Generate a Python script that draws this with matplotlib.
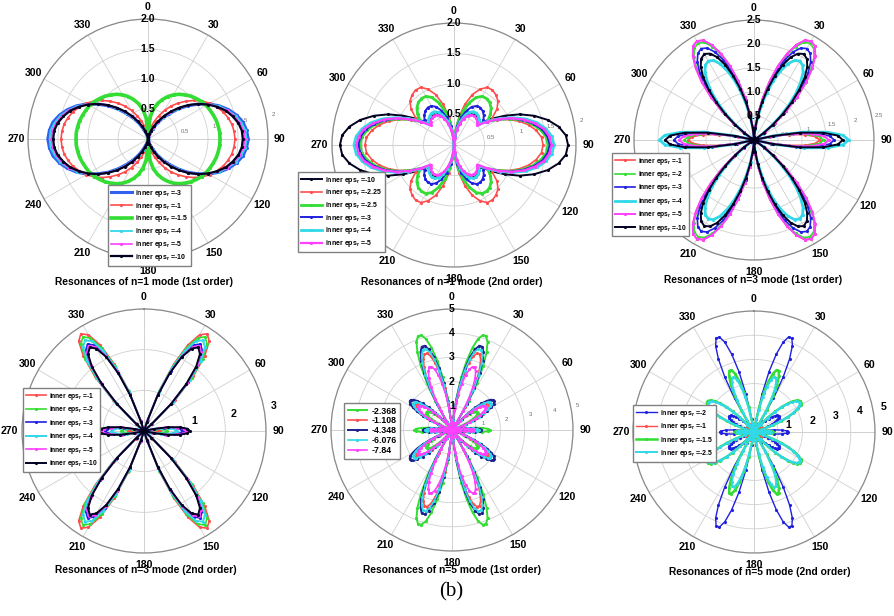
import numpy as np
import matplotlib
matplotlib.use('Agg')
import matplotlib.pyplot as plt

plt.rcParams['font.family'] = ['Liberation Sans', 'DejaVu Sans']
plt.rcParams['mathtext.fontset'] = 'custom'
plt.rcParams['mathtext.rm'] = 'Liberation Sans:bold'
plt.rcParams['mathtext.default'] = 'rm'

# the patterns are symmetric about both axes, so the other quadrants are mirrored copies
theta_5 = list(range(0, 91, 5))
theta_3 = list(range(0, 91, 3))
theta_2 = list(range(0, 91, 2))

# n=1, 1st order
eps_n1_first = ['-3', '-1', '-1.5', '-4', '-5', '-10']
r_n1_first = [
    [0, 0, 0.02, 0.06, 0.11, 0.19, 0.30, 0.42, 0.55, 0.70, 0.86, 1.01, 1.17, 1.31, 1.43, 1.53, 1.61, 1.65, 1.67],
    [0, 0.05, 0.12, 0.22, 0.32, 0.43, 0.55, 0.67, 0.78, 0.89, 1.00, 1.10, 1.19, 1.26, 1.33, 1.38, 1.42, 1.44, 1.45],
    [0, 0.35, 0.50, 0.61, 0.70, 0.78, 0.85, 0.91, 0.96, 1.01, 1.05, 1.09, 1.12, 1.14, 1.16, 1.18, 1.19, 1.20, 1.20],
    [0, 0, 0.02, 0.06, 0.12, 0.21, 0.31, 0.43, 0.57, 0.71, 0.87, 1.02, 1.16, 1.30, 1.41, 1.51, 1.58, 1.63, 1.64],
    [0, 0.01, 0.03, 0.07, 0.14, 0.22, 0.33, 0.45, 0.58, 0.73, 0.87, 1.02, 1.16, 1.28, 1.40, 1.49, 1.55, 1.60, 1.61],
    [0, 0.01, 0.03, 0.08, 0.15, 0.24, 0.34, 0.47, 0.60, 0.74, 0.88, 1.02, 1.15, 1.27, 1.38, 1.46, 1.53, 1.57, 1.58],
]

# n=1, 2nd order
eps_n1_second = ['-10', '-2.25', '-2.5', '-3', '-4', '-5']
r_n1_second = [
    [0, 0.13, 0.26, 0.39, 0.49, 0.57, 0.61, 0.62, 0.60, 0.57, 0.55, 0.75, 0.96, 1.19, 1.40, 1.59, 1.74, 1.84, 1.87],
    [0, 0.22, 0.47, 0.69, 0.88, 1.01, 1.09, 1.10, 1.07, 1.02, 0.92, 0.76, 0.82, 0.99, 1.14, 1.27, 1.37, 1.44, 1.46],
    [0, 0.19, 0.39, 0.58, 0.74, 0.86, 0.92, 0.93, 0.91, 0.86, 0.78, 0.67, 0.84, 1.02, 1.19, 1.33, 1.44, 1.52, 1.54],
    [0, 0.15, 0.32, 0.47, 0.60, 0.69, 0.74, 0.75, 0.73, 0.69, 0.63, 0.67, 0.85, 1.03, 1.20, 1.35, 1.47, 1.54, 1.57],
    [0, 0.13, 0.27, 0.40, 0.51, 0.59, 0.63, 0.64, 0.62, 0.59, 0.53, 0.68, 0.87, 1.06, 1.25, 1.41, 1.53, 1.61, 1.64],
    [0, 0.12, 0.25, 0.36, 0.46, 0.53, 0.57, 0.58, 0.57, 0.54, 0.50, 0.67, 0.85, 1.04, 1.22, 1.37, 1.50, 1.57, 1.60],
]

# n=3, 1st order
eps_n3_first = ['-1', '-2', '-3', '-4', '-5', '-10']
r_n3_first = [
    [0, 0.08, 0.29, 0.57, 0.91, 1.28, 1.63, 1.93, 2.17, 2.33, 2.38, 2.33, 2.17, 1.93, 1.63, 1.28, 0.91, 0.57, 0.29, 0.08, 0,
     0, 0, 0, 0, 0, 0.31, 0.73, 1.07, 1.29, 1.37],
    [0, 0.08, 0.28, 0.56, 0.90, 1.25, 1.59, 1.89, 2.13, 2.28, 2.33, 2.28, 2.13, 1.89, 1.59, 1.25, 0.90, 0.56, 0.28, 0.08, 0,
     0, 0, 0, 0, 0, 0.32, 0.77, 1.13, 1.37, 1.45],
    [0, 0.08, 0.27, 0.53, 0.85, 1.18, 1.50, 1.79, 2.01, 2.15, 2.20, 2.15, 2.01, 1.79, 1.50, 1.18, 0.85, 0.53, 0.27, 0.08, 0,
     0, 0, 0, 0, 0, 0.37, 0.89, 1.31, 1.58, 1.67],
    [0, 0.07, 0.23, 0.46, 0.73, 1.02, 1.30, 1.54, 1.74, 1.86, 1.90, 1.86, 1.74, 1.54, 1.30, 1.02, 0.73, 0.46, 0.23, 0.07, 0,
     0, 0, 0, 0, 0, 0.44, 1.05, 1.54, 1.86, 1.97],
    [0, 0.08, 0.29, 0.57, 0.91, 1.28, 1.63, 1.93, 2.17, 2.33, 2.38, 2.33, 2.17, 1.93, 1.63, 1.28, 0.91, 0.57, 0.29, 0.08, 0,
     0, 0, 0, 0, 0, 0.35, 0.83, 1.22, 1.47, 1.56],
    [0, 0.07, 0.25, 0.50, 0.80, 1.11, 1.41, 1.68, 1.89, 2.02, 2.07, 2.02, 1.89, 1.68, 1.41, 1.11, 0.80, 0.50, 0.25, 0.07, 0,
     0, 0, 0, 0, 0, 0.41, 0.98, 1.45, 1.75, 1.85],
]

# n=3, 2nd order
eps_n3_second = ['-1', '-2', '-3', '-4', '-5', '-10']
r_n3_second = [
    [0, 0, 0, 0, 0, 0, 0.28, 1.09, 1.81, 2.37, 2.73, 2.85, 2.73, 2.37, 1.81, 1.09, 0.28,
     0, 0, 0, 0, 0, 0, 0, 0, 0, 0.09, 0.21, 0.31, 0.38, 0.40],
    [0, 0, 0, 0, 0, 0, 0.27, 1.06, 1.75, 2.29, 2.64, 2.76, 2.64, 2.29, 1.75, 1.06, 0.27,
     0, 0, 0, 0, 0, 0, 0, 0, 0, 0.12, 0.30, 0.44, 0.53, 0.56],
    [0, 0, 0, 0, 0, 0, 0.25, 0.98, 1.62, 2.12, 2.44, 2.55, 2.44, 2.12, 1.62, 0.98, 0.25,
     0, 0, 0, 0, 0, 0, 0, 0, 0, 0.21, 0.51, 0.74, 0.90, 0.95],
    [0, 0, 0, 0, 0, 0, 0.26, 1.02, 1.69, 2.21, 2.55, 2.66, 2.55, 2.21, 1.69, 1.02, 0.26,
     0, 0, 0, 0, 0, 0, 0, 0, 0, 0.18, 0.43, 0.63, 0.76, 0.80],
    [0, 0, 0, 0, 0, 0, 0.25, 0.96, 1.59, 2.08, 2.39, 2.50, 2.39, 2.08, 1.59, 0.96, 0.25,
     0, 0, 0, 0, 0, 0, 0, 0, 0, 0.23, 0.56, 0.82, 0.99, 1.05],
    [0, 0, 0, 0, 0, 0, 0.24, 0.94, 1.55, 2.04, 2.34, 2.45, 2.34, 2.04, 1.55, 0.94, 0.24,
     0, 0, 0, 0, 0, 0, 0, 0, 0, 0.25, 0.60, 0.88, 1.07, 1.13],
]

# n=5, 1st order
eps_n5_first = ['-2.368', '-1.108', '-4.348', '-6.076', '-7.84']
r_n5_first = [
    [0, 0, 0, 0.46, 1.37, 2.21, 2.93, 3.51, 3.92, 4.12, 4.12, 3.92, 3.51, 2.93, 2.21, 1.37, 0.46, 0, 0, 0,
     0.13, 0.38, 0.61, 0.82, 1.00, 1.15, 1.24, 1.29, 1.29, 1.24, 1.15, 1.00, 0.82, 0.61, 0.38, 0.13,
     0, 0, 0, 0, 0, 0.48, 0.91, 1.25, 1.47, 1.55],
    [0, 0, 0, 0.38, 1.11, 1.78, 2.37, 2.84, 3.16, 3.33, 3.33, 3.16, 2.84, 2.37, 1.78, 1.11, 0.38, 0, 0, 0,
     0.18, 0.54, 0.87, 1.17, 1.43, 1.63, 1.77, 1.84, 1.84, 1.77, 1.63, 1.43, 1.17, 0.87, 0.54, 0.18,
     0, 0, 0, 0, 0, 0.31, 0.59, 0.81, 0.95, 1.00],
    [0, 0, 0, 0.41, 1.22, 1.96, 2.60, 3.12, 3.47, 3.66, 3.66, 3.47, 3.12, 2.60, 1.96, 1.22, 0.41, 0, 0, 0,
     0.21, 0.62, 1.00, 1.34, 1.64, 1.87, 2.03, 2.11, 2.11, 2.03, 1.87, 1.64, 1.34, 1.00, 0.62, 0.21,
     0, 0, 0, 0, 0, 0.37, 0.71, 0.97, 1.14, 1.20],
    [0, 0, 0, 0.40, 1.17, 1.89, 2.51, 3.01, 3.35, 3.53, 3.53, 3.35, 3.01, 2.51, 1.89, 1.17, 0.40, 0, 0, 0,
     0.19, 0.57, 0.92, 1.24, 1.51, 1.72, 1.87, 1.94, 1.94, 1.87, 1.72, 1.51, 1.24, 0.92, 0.57, 0.19,
     0, 0, 0, 0, 0, 0.34, 0.65, 0.89, 1.05, 1.10],
    [0, 0, 0, 0.31, 0.91, 1.47, 1.96, 2.35, 2.61, 2.75, 2.75, 2.61, 2.35, 1.96, 1.47, 0.91, 0.31, 0, 0, 0,
     0.17, 0.49, 0.80, 1.08, 1.31, 1.50, 1.63, 1.69, 1.69, 1.63, 1.50, 1.31, 1.08, 0.80, 0.49, 0.17,
     0, 0, 0, 0, 0, 0.28, 0.53, 0.73, 0.86, 0.90],
]

# n=5, 2nd order
eps_n5_second = ['-2', '-1', '-1.5', '-2.5']
r_n5_second = [
    [0, 0, 0, 0, 0, 0.55, 1.61, 2.57, 3.35, 3.90, 4.18, 4.18, 3.90, 3.35, 2.57, 1.61, 0.55, 0, 0, 0, 0,
     0.22, 0.44, 0.64, 0.82, 0.97, 1.09, 1.17, 1.21, 1.21, 1.17, 1.09, 0.97, 0.82, 0.64, 0.44, 0.22,
     0, 0, 0, 0, 0.44, 0.83, 1.15, 1.35, 1.42],
    [0, 0, 0, 0, 0, 0.05, 0.13, 0.21, 0.28, 0.32, 0.35, 0.35, 0.32, 0.28, 0.21, 0.13, 0.05, 0, 0, 0, 0,
     0.06, 0.13, 0.18, 0.24, 0.28, 0.31, 0.34, 0.35, 0.35, 0.34, 0.31, 0.28, 0.24, 0.18, 0.13, 0.06,
     0, 0, 0, 0, 0.09, 0.18, 0.24, 0.29, 0.30],
    [0, 0, 0, 0, 0, 0.36, 1.05, 1.67, 2.17, 2.53, 2.72, 2.72, 2.53, 2.17, 1.67, 1.05, 0.36, 0, 0, 0, 0,
     0.42, 0.83, 1.22, 1.56, 1.84, 2.07, 2.22, 2.30, 2.30, 2.22, 2.07, 1.84, 1.56, 1.22, 0.83, 0.42,
     0, 0, 0, 0, 0.25, 0.47, 0.65, 0.76, 0.80],
    [0, 0, 0, 0, 0, 0.32, 0.93, 1.49, 1.94, 2.25, 2.42, 2.42, 2.25, 1.94, 1.49, 0.93, 0.32, 0, 0, 0, 0,
     0.41, 0.81, 1.18, 1.52, 1.80, 2.01, 2.16, 2.24, 2.24, 2.16, 2.01, 1.80, 1.52, 1.18, 0.81, 0.41,
     0, 0, 0, 0, 0.22, 0.41, 0.57, 0.67, 0.70],
]


def mirror(th, r):
    # quadrant -> full circle, using the two symmetry axes of the patterns
    th = np.asarray(th, float)
    r = np.asarray(r, float)
    a = np.concatenate([th, 180 - th[::-1][1:], 180 + th[1:], 360 - th[::-1][1:]])
    rr = np.concatenate([r, r[::-1][1:], r[1:], r[::-1][1:]])
    return np.deg2rad(a), rr


W, H = 894, 616
fig = plt.figure(figsize=(W / 100, H / 100), dpi=100)

RED, GREEN, BLUE, CYAN, MAG, BLK = '#ff4d4d', '#33dd33', '#2020e0', '#30d8e8', '#ff40ff', '#000020'
eps = 'inner eps$_r$ ='

panels = [
    dict(c=(148, 139, 120), rmax=2.0, ticks=[0.5, 1, 1.5, 2], big=['0.5', '1.0', '1.5', '2.0'],
         small=['0.5', '1', '1.5', '2'], th=theta_5, data=r_n1_first,
         labels=[eps + v for v in eps_n1_first],
         colors=['#3060f0', RED, GREEN, CYAN, MAG, BLK], lw=[2.2, 1.2, 2.6, 1.3, 1.2, 1.6],
         title='Resonances of n=1 mode (1st order)', tpos=(144, 282), leg=(108, 185), fs=5.0, ls=0.26),
    dict(c=(454, 145, 122), rmax=2.0, ticks=[0.5, 1, 1.5, 2], big=['0.5', '1.0', '1.5', '2.0'],
         small=['0.5', '1', '1.5', '2'], th=theta_5, data=r_n1_second,
         labels=[eps + v for v in eps_n1_second],
         colors=[BLK, RED, GREEN, BLUE, CYAN, MAG], lw=[1.4, 1.2, 2.0, 1.4, 2.0, 1.6],
         title='Resonances of n=1 mode (2nd order)', tpos=(452, 282), leg=(298, 172), fs=5.0, ls=0.24),
    dict(c=(754, 140, 120), rmax=2.5, ticks=[0.5, 1, 1.5, 2, 2.5], big=['0.5', '1.0', '1.5', '2.0', '2.5'],
         small=['0.5', '1', '1.5', '2', '2.5'], th=theta_3, data=r_n3_first,
         labels=[eps + v for v in eps_n3_first],
         colors=[RED, GREEN, BLUE, CYAN, MAG, BLK], lw=[1.2, 1.2, 1.2, 2.0, 1.4, 1.4],
         title='Resonances of n=3 mode (1st order)', tpos=(753, 280), leg=(612, 153), fs=4.8, ls=0.36),
    dict(c=(144, 431, 122), rmax=3.0, ticks=[1, 2, 3], big=[], small=[], side=['1', '2', '3'], soff=0.25,
         th=theta_3, data=r_n3_second, labels=[eps + v for v in eps_n3_second],
         colors=[RED, GREEN, BLUE, CYAN, MAG, BLK], lw=[1.2, 1.2, 1.2, 1.4, 1.2, 1.4],
         title='Resonances of n=3 mode (2nd order)', tpos=(146, 570), leg=(23, 388), fs=4.8, ls=0.38),
    dict(c=(452, 430, 121), rmax=5.0, ticks=[1, 2, 3, 4, 5], big=['1', '2', '3', '4', '5'],
         small=['1', '2', '3', '4', '5'], th=theta_2, data=r_n5_first, labels=eps_n5_first,
         colors=[GREEN, RED, '#202090', CYAN, MAG], lw=[1.4, 1.2, 1.4, 1.2, 1.2],
         title='Resonances of n=5 mode (1st order)', tpos=(452, 570), leg=(344, 403), fs=6.3, ls=0.1),
    dict(c=(754, 432, 121), rmax=5.0, ticks=[1, 2, 3, 4, 5], big=[], small=[], side=['1', '2', '3', '4', '5'],
         soff=0.45, th=theta_2, data=r_n5_second, labels=[eps + v for v in eps_n5_second],
         colors=[BLUE, RED, GREEN, CYAN], lw=[1.0, 1.0, 1.8, 1.4],
         title='Resonances of n=5 mode (2nd order)', tpos=(760, 572), leg=(633, 405), fs=5.0, ls=0.34),
]

for s in panels:
    cx, cy, R = s['c']
    ax = fig.add_axes([(cx - R) / W, (H - cy - R) / H, 2 * R / W, 2 * R / H], projection='polar')
    ax.set_theta_zero_location('N')
    ax.set_theta_direction(-1)
    ax.set_thetagrids(range(0, 360, 30), labels=[''] * 12)
    ax.set_rgrids(s['ticks'], labels=[''] * len(s['ticks']))
    ax.set_rlim(0, s['rmax'])
    ax.grid(True, color='#d0d0d0', lw=0.6, ls='-')
    ax.spines['polar'].set_color('#8a8a8a')
    ax.spines['polar'].set_linewidth(0.9)
    rm = s['rmax']
    for a in (0, np.pi / 2):
        ax.plot([a, a + np.pi], [rm, rm], color='#909090', lw=0.6, ls=':', zorder=1)
    for a in range(0, 360, 30):
        ax.text(np.deg2rad(a), rm * 1.1, str(a), ha='center', va='center', fontsize=7.6,
                fontweight='bold', clip_on=False)
    for t, lab in zip(s['ticks'], s['small']):
        ax.text(np.deg2rad(79), t + 0.06 * rm, lab, ha='center', va='center', fontsize=4.3,
                color='#707070', zorder=1)
    for t, lab in zip(s['ticks'], s.get('side', [])):
        ax.text(np.deg2rad(79), t + s['soff'], lab, ha='center', va='center', fontsize=7.6,
                fontweight='bold')

    lines = []
    for r, lab, col, lw in zip(s['data'], s['labels'], s['colors'], s['lw']):
        a, rr = mirror(s['th'], r)
        ln, = ax.plot(a, rr, color=col, lw=lw, marker='.', ms=2.5, label=lab, zorder=2)
        lines.append(ln)

    for t, lab in zip(s['ticks'], s['big']):
        ax.text(0, t, lab, ha='center', va='center', fontsize=7.6, fontweight='bold', zorder=4)

    lx, ly = s['leg']
    ax.legend(handles=lines, loc='upper left', bbox_to_anchor=(lx / W, 1 - ly / H),
              bbox_transform=fig.transFigure, prop={'weight': 'bold', 'size': s['fs']},
              frameon=True, fancybox=False, edgecolor='#808080', framealpha=1, borderpad=0.4,
              labelspacing=s['ls'], handlelength=3.0 if s['fs'] < 6 else 2.2,
              handletextpad=0.5, borderaxespad=0)
    fig.text(s['tpos'][0] / W, 1 - s['tpos'][1] / H, s['title'], ha='center', va='center',
             fontsize=7.4, fontweight='bold')

fig.text(451 / W, 1 - 592 / H, '(b)', ha='center', va='center', fontsize=15,
         family=['Liberation Serif', 'DejaVu Serif'])

fig.savefig('out.png', dpi=100)
